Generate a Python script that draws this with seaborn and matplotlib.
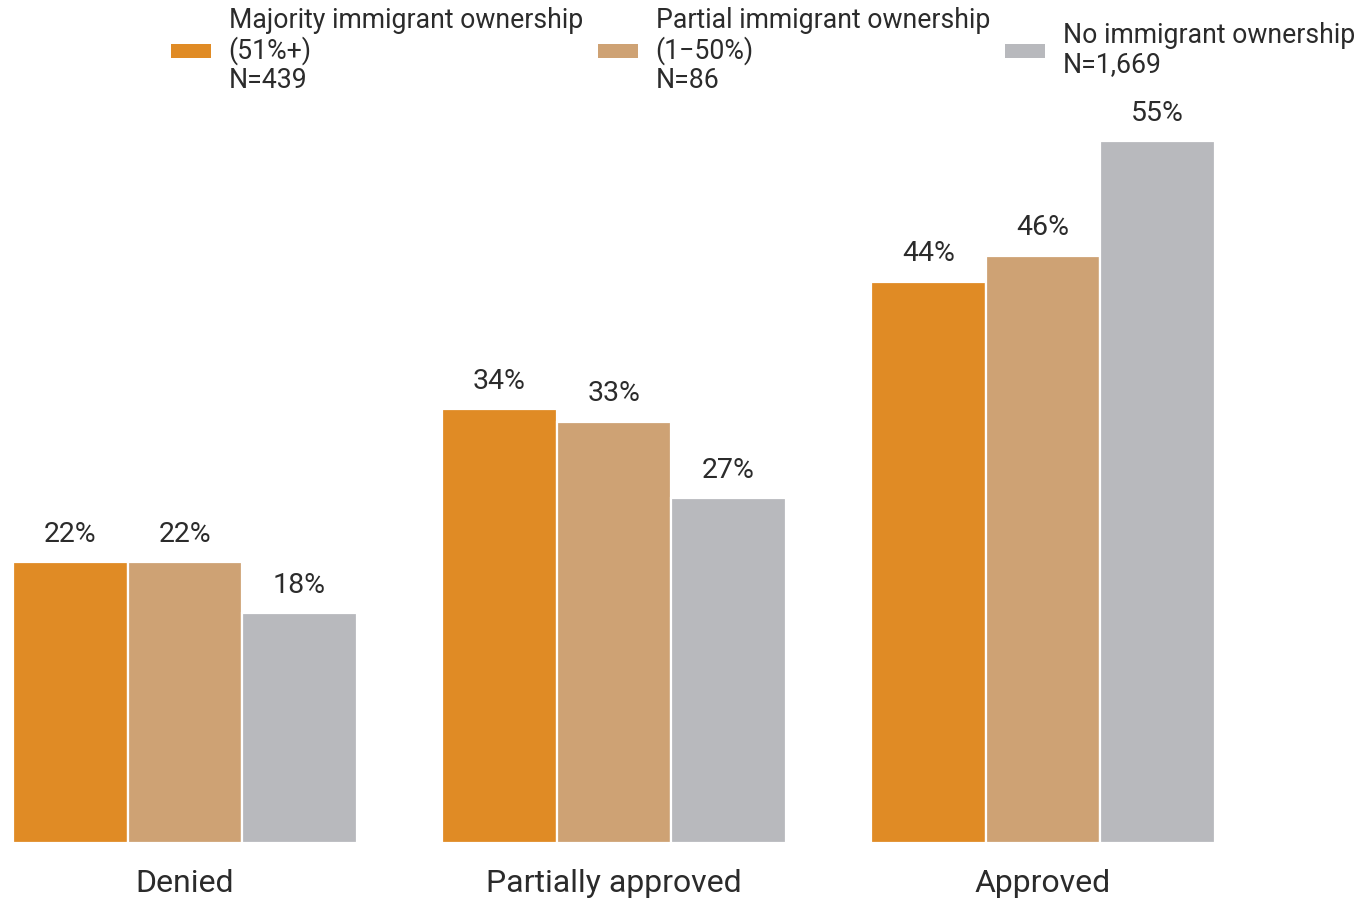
import matplotlib
matplotlib.use("Agg")
import matplotlib.pyplot as plt
from matplotlib.patches import Patch
import seaborn as sns
import pandas as pd

# Loan application outcome by ownership group
outcomes = ["Denied", "Partially approved", "Approved"]
groups = [
    "Majority immigrant ownership\n(51%+)\nN=439",
    "Partial immigrant ownership\n(1\u221250%)\nN=86",
    "No immigrant ownership\nN=1,669",
]
majority = [22, 34, 44]
partial = [22, 33, 46]
none_ = [18, 27, 55]
colors = ["#E08B25", "#CEA274", "#B8B9BD"]

df = pd.DataFrame({
    "outcome": outcomes * 3,
    "group": [groups[0]] * 3 + [groups[1]] * 3 + [groups[2]] * 3,
    "share": majority + partial + none_,
})

sns.set_theme(style="white")
plt.rcParams["font.family"] = ["Roboto", "DejaVu Sans"]
text_color = "#2b2b2b"

fig = plt.figure(figsize=(13.6, 8.99), dpi=100)
ax = fig.add_axes([0.0, 0.0623, 1.0, 0.8516])

sns.barplot(
    data=df, x="outcome", y="share", hue="group", order=outcomes,
    hue_order=groups, palette=colors, width=0.8, saturation=1,
    edgecolor="white", linewidth=1.6, legend=False, ax=ax,
)

ax.set_xlim(-0.431, 2.739)
ax.set_ylim(0, 60)
for c in ax.containers:
    ax.bar_label(c, labels=[f"{v:.0f}%" for v in c.datavalues], padding=10.5,
                 fontsize=20.5, color=text_color)

ax.set_xlabel("")
ax.set_ylabel("")
ax.set_yticks([])
ax.tick_params(axis="x", length=0, pad=19, labelsize=23, labelcolor=text_color)
sns.despine(ax=ax, left=True, bottom=True)

handles = [Patch(facecolor=col, edgecolor="none") for col in colors]
leg = fig.legend(
    handles, groups, loc="center left", bbox_to_anchor=(0.1255, 0.944),
    ncol=3, frameon=False, fontsize=19.2, handlelength=1.5, handleheight=0.41,
    handletextpad=0.67, columnspacing=0.56, borderaxespad=0, borderpad=0,
    labelcolor=text_color,
)
for t in leg.get_texts():
    t.set_linespacing(1.1)

fig.savefig("out.png", dpi=100, facecolor="white")
